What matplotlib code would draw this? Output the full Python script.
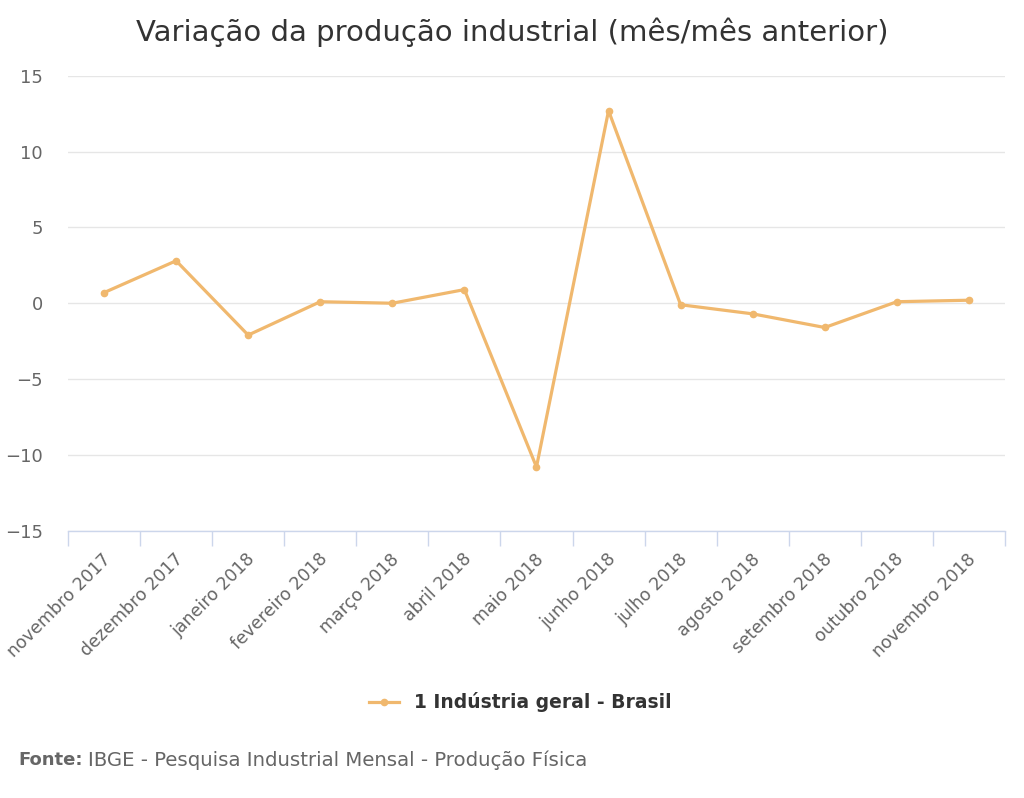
import matplotlib
matplotlib.use("Agg")
import matplotlib.pyplot as plt
from matplotlib.lines import Line2D
from matplotlib.transforms import ScaledTranslation

plt.rcParams['font.family'] = ['DejaVu Sans']

# === Data ===
meses = ["novembro 2017", "dezembro 2017", "janeiro 2018", "fevereiro 2018",
         "março 2018", "abril 2018", "maio 2018", "junho 2018", "julho 2018",
         "agosto 2018", "setembro 2018", "outubro 2018", "novembro 2018"]
variacao = [0.7, 2.8, -2.1, 0.1, 0.0, 0.9, -10.8, 12.7, -0.1, -0.7, -1.6, 0.1, 0.2]
y_ticks = [-15, -10, -5, 0, 5, 10, 15]
serie = "1 Indústria geral - Brasil"

line_color = "#f0b86e"
text_color = "#666666"

fig = plt.figure(figsize=(10.24, 7.98), dpi=100)
ax = fig.add_axes([0.0664, 0.335, 0.915, 0.570])

x = list(range(len(meses)))
ax.plot(x, variacao, color=line_color, lw=2.3, marker="o", ms=4.5,
        solid_joinstyle="round", zorder=3)

ax.set_xlim(-0.5, len(meses) - 0.5)
ax.set_ylim(-15, 15)
ax.set_yticks(y_ticks)
ax.set_yticklabels([str(v).replace("-", "−") for v in y_ticks])
ax.grid(axis="y", color="#e6e6e6", lw=1)
ax.set_axisbelow(True)

for s in ["top", "right", "left"]:
    ax.spines[s].set_visible(False)
ax.spines["bottom"].set_color("#ccd6eb")
ax.spines["bottom"].set_linewidth(1)

ax.tick_params(axis="y", length=0, pad=18, labelsize=13, labelcolor=text_color)
ax.set_xticks(x)
ax.set_xticklabels(meses, rotation=45, ha="right", rotation_mode="anchor",
                   fontsize=12.5, color=text_color)
ax.tick_params(axis="x", which="major", length=0, pad=14)
shift = ScaledTranslation(-2 / 100, 0, fig.dpi_scale_trans)
for lbl in ax.get_xticklabels():
    lbl.set_transform(lbl.get_transform() + shift)
ax.set_xticks([i - 0.5 for i in range(len(meses) + 1)], minor=True)
ax.tick_params(axis="x", which="minor", length=11, color="#ccd6eb", width=1)

fig.text(0.5, 0.96, "Variação da produção industrial (mês/mês anterior)",
         ha="center", va="center", fontsize=21, color="#333333")

handle = Line2D([], [], color=line_color, lw=2.3, marker="o", ms=4.5)
fig.legend([handle], [serie], loc="center", bbox_to_anchor=(0.508, 0.12),
           frameon=False, handlelength=1.6,
           prop={"size": 13.5, "weight": "bold"}, labelcolor="#333333")

fig.text(0.018, 0.047, "Fonte:", ha="left", va="center", fontsize=13,
         fontweight="bold", color=text_color)
fig.text(0.086, 0.047, "IBGE - Pesquisa Industrial Mensal - Produção Física",
         ha="left", va="center", fontsize=14.2, color=text_color)

fig.savefig("out.png", dpi=100)
